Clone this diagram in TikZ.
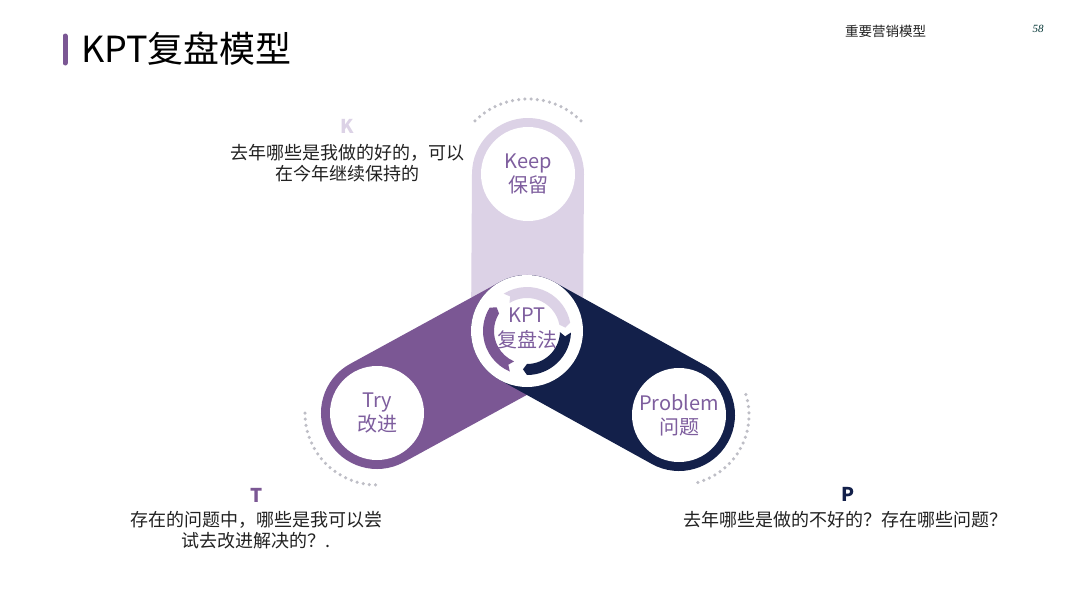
\documentclass[tikz,border=0pt]{standalone}
\usepackage{fontspec}
\setmainfont{Noto Sans CJK SC}
\newfontfamily\pagefont{Liberation Serif}
\usetikzlibrary{calc}
\definecolor{kptlav}{HTML}{DCD2E6}
\definecolor{kptpurple}{HTML}{7B5794}
\definecolor{kptnavy}{HTML}{13204A}
\definecolor{kpttext}{HTML}{7E5E9E}
\definecolor{kptdots}{HTML}{BEBEC6}
\definecolor{kptink}{HTML}{222222}
% one clockwise ring piece of the hub: colour, start angle, end angle
\newcommand{\kptarc}[3]{\fill[#1] ($(hub)+(#2:44)$) arc[start angle=#2, end angle=#3+6, radius=44] -- ($(hub)+(#3:38.5)$) -- ($(hub)+(#3+6:33)$) arc[start angle=#3+6, end angle=#2, radius=33] -- ($(hub)+(#2-6:38.5)$) -- cycle;}
\begin{document}
\begin{tikzpicture}[x=1pt, y=1pt,
  band/.style={line width=112pt, line cap=round},
  hole/.style={circle, fill=white, minimum size=94pt, inner sep=0pt, align=center, text=kpttext, font=\fontsize{20}{24}\selectfont},
  dots/.style={kptdots, line width=3.5pt, line cap=round, dash pattern=on 0pt off 6.2pt},
  note/.style={align=center, text=kptink, font=\fontsize{18}{21}\selectfont},
  letter/.style={font=\fontsize{19}{22}\selectfont\bfseries}]
\fill[white] (0,0) rectangle (1080,-608);

% title and page head
\draw[kptpurple, line width=5pt, line cap=round] (65,-36) -- (65,-63);
\node[anchor=west, inner sep=0pt, text=black, font=\fontsize{36}{40}\selectfont] (title) at (81,-49) {KPT复盘模型};
\node[anchor=west, inner sep=0pt, text=kptink, font=\fontsize{13.5}{16}\selectfont] (head) at (845,-31) {重要营销模型};
\node[inner sep=0pt, text=black!60!teal, font=\pagefont\itshape\fontsize{11}{12}\selectfont] (page) at (1038,-29) {58};

% the three arms
\coordinate (hub) at (527,-331);
\coordinate (keepc) at (528,-174);
\coordinate (tryc) at (377,-413);
\coordinate (probc) at (679,-415);
\draw[band, kptlav] (keepc) -- (hub);
\draw[band, kptpurple] (tryc) -- (hub);
\draw[band, kptnavy] (probc) -- (hub);

\draw[dots] ($(keepc)+(135:75)$) arc[start angle=135, end angle=45, radius=75];
\draw[dots] ($(tryc)+(180:72)$) arc[start angle=180, end angle=270, radius=72];
\draw[dots] ($(probc)+(17:70)$) arc[start angle=17, end angle=-78, radius=70];

\node[hole] (keep) at (keepc) {Keep\\保留};
\node[hole] (try) at (tryc) {Try\\改进};
\node[hole] (problem) at (probc) {Problem\\问题};

% hub
\node[hole, minimum size=112pt] (kpt) at (hub) {};
\kptarc{kptlav}{122}{5}
\kptarc{kptnavy}{-2}{-96}
\kptarc{kptpurple}{247}{142}
\node[align=center, text=kpttext, font=\fontsize{20}{25}\selectfont] (kpttext) at (527,-328) {KPT\\复盘法};

% notes
\node[letter, text=kptlav] (kletter) at (347,-126) {K};
\node[note] (knote) at (347,-163) {去年哪些是我做的好的，可以\\在今年继续保持的};
\node[letter, text=kptpurple] (tletter) at (257,-495) {T};
\node[note] (tnote) at (256,-530) {存在的问题中，哪些是我可以尝\\试去改进解决的？.};
\node[letter, text=kptnavy] (pletter) at (848,-494) {P};
\node[note] (pnote) at (845,-520) {去年哪些是做的不好的？存在哪些问题？};
\end{tikzpicture}
\end{document}
